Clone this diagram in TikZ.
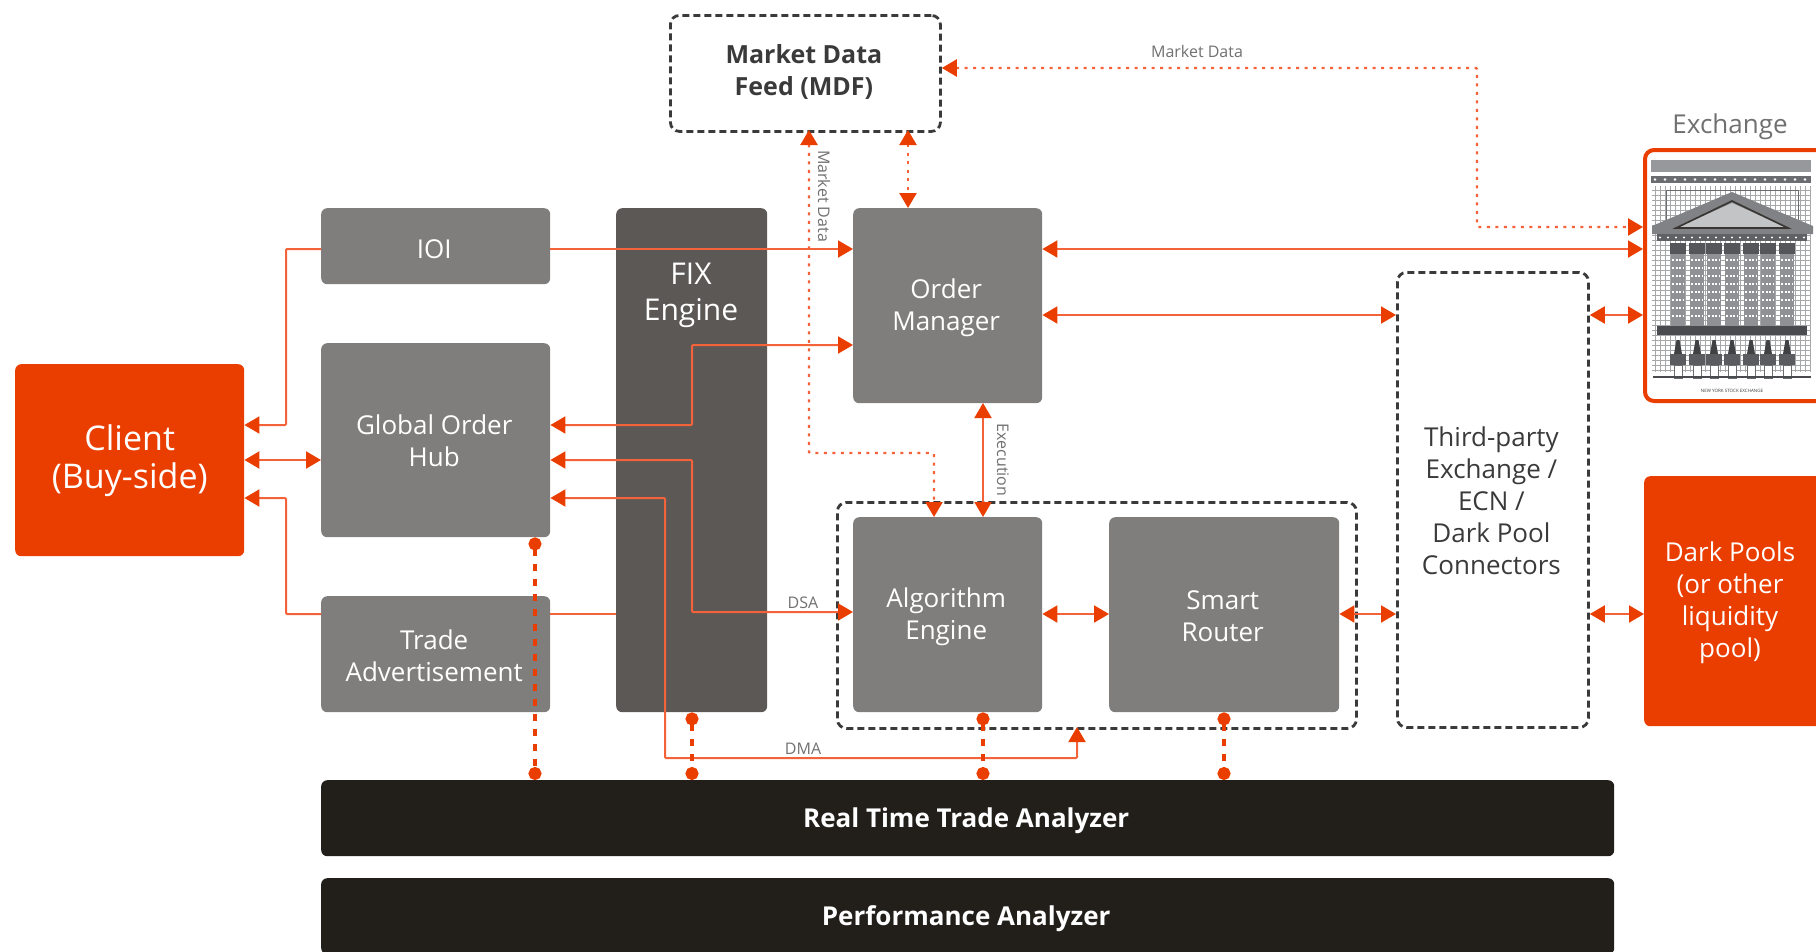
\documentclass[tikz,border=0pt]{standalone}
\usepackage{fontspec}
\setmainfont{Open Sans}
\usetikzlibrary{arrows.meta}

\definecolor{flame}{HTML}{EA3D00}
\definecolor{wirecol}{HTML}{F4623A}
\definecolor{midgray}{HTML}{7F7E7C}
\definecolor{fixgray}{HTML}{5B5856}
\definecolor{coal}{HTML}{221F1B}
\definecolor{inkgray}{HTML}{3A3A3A}
\definecolor{notegray}{HTML}{707070}
\definecolor{bldg}{HTML}{6A6C70}

\newcommand{\boxtext}[2][2pt]{\kern-1.5pt\raisebox{-#1}[\height][\depth]{\begin{tabular}{@{}c@{}}#2\end{tabular}}\kern1.5pt}

\tikzset{
  box/.style={anchor=north west,rounded corners=6pt,inner sep=0pt,align=center,text=white,
    font=\fontsize{26}{32}\selectfont},
  graybox/.style={box,fill=midgray},
  fixbox/.style={box,fill=fixgray},
  redbox/.style={box,fill=flame},
  barbox/.style={box,fill=coal,font=\fontsize{26}{30}\selectfont\bfseries},
  dashbox/.style={box,draw=inkgray,line width=2.8pt,dash pattern=on 7pt off 4pt,text=inkgray,rounded corners=9pt},
  boxlabel/.style={anchor=center,text=white,align=center,inner sep=0pt},
  note/.style={text=notegray,font=\fontsize{16}{18}\selectfont,inner sep=0pt},
  wire/.style={draw=wirecol,line width=2pt,rounded corners=1pt},
  dotwire/.style={wire,line width=2.4pt,dash pattern=on 3pt off 5.5pt},
  tipboth/.style={{Triangle[length=15pt,width=17pt,color=flame]}-{Triangle[length=15pt,width=17pt,color=flame]}},
  tipend/.style={-{Triangle[length=15pt,width=17pt,color=flame]}},
  tap/.style={draw=flame,line width=3.2pt,dash pattern=on 7pt off 8pt,
    {Circle[length=13pt,color=flame]}-{Circle[length=13pt,color=flame]}},
  bldgline/.style={draw=bldg,line width=1pt}
}

\begin{document}
\begin{tikzpicture}[x=1pt,y=-1pt]
  \path[use as bounding box,clip] (0,0) rectangle (1816,951);

  \node[redbox,minimum width=229,minimum height=192,font=\fontsize{34}{38}\selectfont] (client) at (15,364) {Client\\(Buy-side)};
  \node[graybox,minimum width=229,minimum height=76] (ioi) at (321,208) {\boxtext[5.5pt]{IOI}};
  \node[graybox,minimum width=229,minimum height=194] (hub) at (321,343) {\boxtext[4pt]{Global Order\\Hub}};
  \node[graybox,minimum width=229,minimum height=116] (advert) at (321,596) {\boxtext[5pt]{Trade\\Advertisement}};
  \node[fixbox,minimum width=151,minimum height=504] (fix) at (616,208) {};
  \node[boxlabel,font=\fontsize{30}{36}\selectfont] (fixlabel) at (691,295) {FIX\\Engine};
  \node[graybox,minimum width=189,minimum height=195] (manager) at (853,208) {\boxtext{Order\\Manager}};
  \node[dashbox,minimum width=270,minimum height=116,font=\fontsize{25}{32}\selectfont\bfseries] (mdf) at (669,14) {\boxtext[0pt]{Market Data\\Feed (MDF)}};
  \node[dashbox,minimum width=519,minimum height=226] (group) at (836,501) {};
  \node[graybox,minimum width=189,minimum height=195] (algo) at (853,517) {\boxtext{Algorithm\\Engine}};
  \node[graybox,minimum width=230,minimum height=195] (router) at (1109,517) {\boxtext[4pt]{Smart\\Router}};
  \node[dashbox,minimum width=191,minimum height=455] (third) at (1396,271) {\boxtext[4.5pt]{Third-party\\Exchange /\\ECN /\\Dark Pool\\Connectors}};
  \node[redbox,minimum width=200,minimum height=250] (dark) at (1644,476) {};
  \node[boxlabel,font=\fontsize{26}{32}\selectfont] (darklabel) at (1730,603) {Dark Pools\\(or other\\liquidity\\pool)};
  \node[barbox,minimum width=1293,minimum height=76] (trade) at (321,780) {\boxtext[3pt]{Real Time Trade Analyzer}};
  \node[barbox,minimum width=1293,minimum height=76] (perf) at (321,878) {\boxtext[3pt]{Performance Analyzer}};

  \node[boxlabel,text=notegray,font=\fontsize{26}{32}\selectfont] (exlabel) at (1730,127) {Exchange};
  \node[anchor=north west,draw=flame,fill=white,line width=4pt,rounded corners=9pt,inner sep=0pt,minimum width=200,minimum height=251] (exchange) at (1643,148) {};

  \fill[bldg!70] (1651,160) rectangle (1811,172);
  \fill[bldg] (1651,176) rectangle (1811,183);
  \foreach \x in {1655,1665,...,1810}
    \fill[white] (\x,179.5) circle (1.4pt);
  \foreach \x in {1655,1660,...,1810}
    \draw[bldg!60,line width=.7pt] (\x,186) -- (\x,372);
  \foreach \y in {190,195,...,374}
    \draw[bldg!60,line width=.7pt] (1652,\y) -- (1811,\y);
  \draw[bldgline] (1666,190) rectangle (1798,226);
  \fill[bldg!85] (1732,192) -- (1813,226) -- (1813,234) -- (1652,234) -- (1652,226) -- cycle;
  \fill[white!60!bldg] (1732,203) -- (1785,227) -- (1679,227) -- cycle;
  \draw[coal!90,line width=1.6pt] (1732,201) -- (1788,228) -- (1676,228) -- cycle;
  \fill[bldg!90!black] (1657,234) rectangle (1807,241);
  \foreach \x in {1660,1668,...,1805}
    \fill[white] (\x,237.5) circle (1.1pt);
  \foreach \x in {1678,1697,1714,1732,1751,1768,1787}{
    \fill[bldg!80!black] (\x-8,243) rectangle (\x+8,254);
    \fill[bldg!75] (\x-7,254) rectangle (\x+7,326);
    \foreach \y in {260,268,...,320}
      \draw[white,line width=1.6pt,dash pattern=on 2pt off 1.5pt] (\x-6,\y) -- (\x+6,\y);
    \fill[bldg!60!black] (\x-1.5,340) -- (\x+1.5,340) -- (\x+4,354) -- (\x-4,354) -- cycle;
    \fill[bldg!85!black] (\x-8,354) rectangle (\x+8,365);
    \fill[white] (\x-4,365) rectangle (\x+4,378);
    \draw[bldgline] (\x-4,365) rectangle (\x+4,378);
  }
  \fill[bldg!70!black] (1657,326) rectangle (1807,335);
  \draw[bldg!70!black,line width=1.8pt] (1653,377) -- (1811,377);
  \node[text=inkgray,font=\fontsize{4.5}{5}\selectfont,inner sep=0pt] (nyse) at (1732,391) {NEW YORK STOCK EXCHANGE};

  \coordinate (leftrail) at (286,0);
  \coordinate (fixrail) at (692,0);
  \coordinate (dmarail) at (665,0);
  \coordinate (feedrail) at (1477,0);
  \coordinate (hubtap) at (535,0);
  \coordinate (routertap) at (1224,0);
  \coordinate (midrow) at (0,453);
  \coordinate (dmarow) at (0,758);
  \coordinate (ioirow) at (0,249);

  \coordinate (clienta) at (client.east |- 0,425);
  \coordinate (clientb) at (client.east |- 0,460);
  \coordinate (clientc) at (client.east |- 0,498);
  \coordinate (huba) at (hub.east |- clienta);
  \coordinate (hubb) at (hub.east |- clientb);
  \coordinate (hubc) at (hub.east |- clientc);
  \coordinate (hubw) at (hub.west |- clientb);
  \coordinate (ioiw) at (ioi.west |- ioirow);
  \coordinate (ioie) at (ioi.east |- ioirow);
  \coordinate (iois) at (manager.west |- ioirow);
  \coordinate (mgrhub) at (manager.west |- 0,345);
  \coordinate (mgrex) at (manager.east |- ioirow);
  \coordinate (exmgr) at (exchange.west |- ioirow);
  \coordinate (mgrthird) at (manager.east |- 0,315);
  \coordinate (thirdmgr) at (third.west |- mgrthird);
  \coordinate (thirdex) at (third.east |- mgrthird);
  \coordinate (exthird) at (exchange.west |- mgrthird);
  \coordinate (feedex) at (exchange.west |- 0,227);
  \coordinate (mdfa) at (809,130);
  \coordinate (mdfb) at (908,130);
  \coordinate (mdfc) at (mdf.east |- 0,68);
  \coordinate (mgrtop) at (manager.north -| mdfb);
  \coordinate (mgrbot) at (983,403);
  \coordinate (algotop) at (algo.north -| mgrbot);
  \coordinate (algofeed) at (934,517);
  \coordinate (algoa) at (algo.west |- 0,612);
  \coordinate (algob) at (algo.east |- 0,614);
  \coordinate (routera) at (router.west |- algob);
  \coordinate (routerb) at (router.east |- algob);
  \coordinate (thirda) at (third.west |- algob);
  \coordinate (thirdb) at (third.east |- algob);
  \coordinate (darka) at (dark.west |- algob);
  \coordinate (advin) at (fix.west |- 0,614);
  \coordinate (advout) at (advert.east |- advin);
  \coordinate (advleft) at (advert.west |- advin);
  \coordinate (groupin) at (1077,727);

  \draw[wire,tipend] (ioiw) -| (leftrail |- clienta) -- (clienta);
  \draw[wire,tipend] (advleft) -| (leftrail |- clientc) -- (clientc);
  \draw[wire,tipboth] (clientb) -- (hubw);
  \draw[wire,tipend] (ioie) -- (iois);
  \draw[wire] (advout) -- (advin);
  \draw[wire,tipboth] (huba) -| (fixrail |- mgrhub) -- (mgrhub);
  \draw[wire,tipboth] (hubb) -| (fixrail |- algoa) -- (algoa);
  \draw[wire,tipboth] (hubc) -| (dmarail |- dmarow) -| (groupin);

  \draw[wire,tipboth] (mgrex) -- (exmgr);
  \draw[wire,tipboth] (mgrthird) -- (thirdmgr);
  \draw[wire,tipboth] (thirdex) -- (exthird);
  \draw[wire,tipboth] (mgrbot) -- (algotop);
  \draw[wire,tipboth] (algob) -- (routera);
  \draw[wire,tipboth] (routerb) -- (thirda);
  \draw[wire,tipboth] (thirdb) -- (darka);

  \draw[dotwire,tipboth] (mdfa) |- (algofeed |- midrow) -- (algofeed);
  \draw[dotwire,tipboth] (mdfb) -- (mgrtop);
  \draw[dotwire,tipboth] (mdfc) -| (feedrail |- feedex) -- (feedex);

  \draw[tap] (hubtap |- hub.south) -- (hubtap |- trade.north);
  \draw[tap] (fixrail |- fix.south) -- (fixrail |- trade.north);
  \draw[tap] (mgrbot |- algo.south) -- (mgrbot |- trade.north);
  \draw[tap] (routertap |- router.south) -- (routertap |- trade.north);

  \node[note] (mdnote) at (1197,51) {Market Data};
  \node[note,rotate=-90] (mdnoteb) at (824,196) {Market Data};
  \node[note,rotate=-90] (execnote) at (1003,460) {Execution};
  \node[note] (dsanote) at (803,603) {DSA};
  \node[note] (dmanote) at (803,749) {DMA};
\end{tikzpicture}
\end{document}
